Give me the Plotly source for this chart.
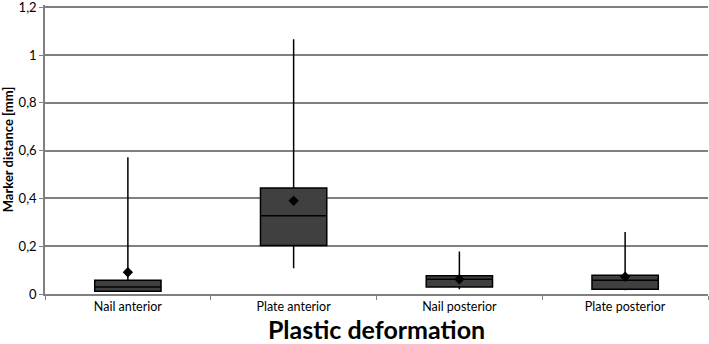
import plotly.graph_objects as go

categories = ["Nail anterior", "Plate anterior", "Nail posterior", "Plate posterior"]
lower_whisker = [0.012, 0.108, 0.02, 0.016]
q1 = [0.012, 0.203, 0.029, 0.02]
median = [0.029, 0.328, 0.062, 0.058]
q3 = [0.058, 0.444, 0.076, 0.079]
upper_whisker = [0.573, 1.067, 0.178, 0.26]
mean = [0.091, 0.39, 0.062, 0.072]

y_ticks = [0, 0.2, 0.4, 0.6, 0.8, 1, 1.2]

fig = go.Figure()
fig.add_trace(go.Box(
    x=categories, q1=q1, median=median, q3=q3,
    lowerfence=lower_whisker, upperfence=upper_whisker,
    fillcolor="#404040", line=dict(color="black", width=1.5),
    whiskerwidth=0, boxpoints=False, showlegend=False,
))
fig.add_trace(go.Scatter(
    x=categories, y=mean, mode="markers",
    marker=dict(symbol="diamond", size=8, color="black"),
    showlegend=False,
))

font_family = "Lato, 'Open Sans', sans-serif"
fig.update_layout(
    width=709, height=344,
    margin=dict(l=45, r=1, t=5, b=50),
    paper_bgcolor="white", plot_bgcolor="white",
    separators=", ",
    boxgap=0.6, boxgroupgap=0,
    font=dict(family=font_family, color="black", size=12),
    xaxis=dict(
        categoryorder="array", categoryarray=categories,
        automargin=False,
        showline=True, linecolor="#808080", linewidth=1.5,
        ticks="outside", tickson="boundaries", ticklen=4, tickcolor="#808080",
        tickfont=dict(size=12.5),
        title=dict(text="<b>Plastic deformation</b>", font=dict(size=25), standoff=4),
        showgrid=False,
    ),
    yaxis=dict(
        range=[0, 1.21], tickvals=y_ticks,
        automargin=False, ticklabeloverflow="allow",
        showline=True, linecolor="#808080", linewidth=1.5,
        ticks="outside", ticklen=4, tickcolor="#808080",
        showgrid=True, gridcolor="#808080", gridwidth=1.5,
        zeroline=False,
        tickfont=dict(size=13),
        title=dict(text="<b>Marker distance [mm]</b>", font=dict(size=13), standoff=8),
    ),
)

fig.write_html("out.html", config={"displayModeBar": False},
               post_script="document.body.style.margin='0';")
